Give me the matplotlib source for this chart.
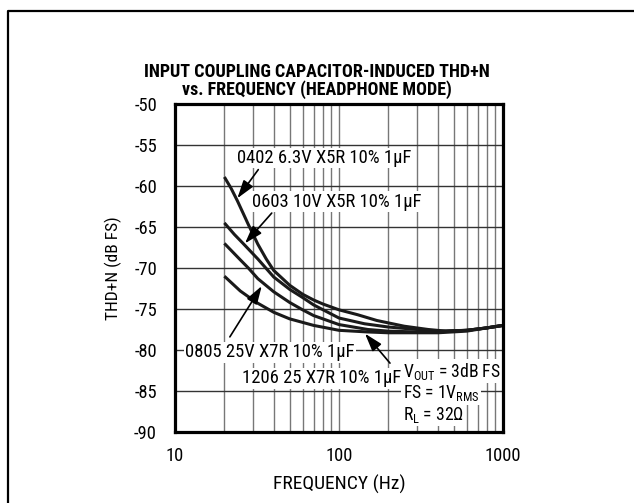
import matplotlib
matplotlib.use('Agg')
import matplotlib.pyplot as plt
from matplotlib import font_manager
from matplotlib.lines import Line2D

# THD+N readings (dB FS) per capacitor type
freq_0402 = [20, 22, 24, 26, 28, 32, 36, 40, 50, 60, 70, 80, 100, 130, 170, 250, 350, 450, 600, 800, 1000]
thd_0402 = [-58.9, -60.3, -61.8, -63.3, -64.7, -67.1, -68.9, -70.3, -72.1, -73.2, -73.9, -74.4, -75.1, -75.7,
            -76.4, -77.1, -77.5, -77.7, -77.6, -77.3, -77.0]

freq_0603 = [20, 23, 26, 32, 40, 50, 60, 70, 100, 143, 200, 300, 400, 600, 800, 1000]
thd_0603 = [-64.5, -65.9, -67.0, -68.9, -71.1, -72.6, -73.6, -74.5, -76.1, -76.8, -77.2, -77.5, -77.7,
            -77.6, -77.3, -77.0]

freq_0805 = [20, 25, 28, 32, 40, 50, 60, 70, 100, 150, 200, 300, 400, 600, 800, 1000]
thd_0805 = [-67.0, -69.0, -70.0, -71.3, -72.9, -74.2, -75.1, -75.8, -76.9, -77.5, -77.7, -77.8, -77.8,
            -77.6, -77.3, -77.0]

freq_1206 = [20, 25, 28, 32, 40, 50, 70, 100, 150, 200, 300, 400, 600, 800, 1000]
thd_1206 = [-71.0, -72.8, -73.5, -74.3, -75.4, -76.2, -77.0, -77.6, -77.8, -77.9, -77.9, -77.9, -77.7,
            -77.3, -77.0]

y_ticks = [-50, -55, -60, -65, -70, -75, -80, -85, -90]
x_ticks = [10, 100, 1000]

names = {f.name for f in font_manager.fontManager.ttflist}
face = next((n for n in ['Liberation Sans Narrow', 'Roboto Condensed', 'Roboto'] if n in names),
            'Liberation Sans')
plt.rcParams['font.family'] = [face, 'DejaVu Sans']
plt.rcParams['mathtext.fontset'] = 'custom'
plt.rcParams['mathtext.rm'] = face
plt.rcParams['mathtext.it'] = face

fig = plt.figure(figsize=(6.34, 5.03), dpi=100)
ax = fig.add_axes([175 / 634, 1 - 432 / 503, 328 / 634, 328 / 503])

for f, v in [(freq_0402, thd_0402), (freq_0603, thd_0603),
             (freq_0805, thd_0805), (freq_1206, thd_1206)]:
    ax.plot(f, v, color='#1a1a1a', lw=2.2, solid_capstyle='butt', zorder=3)

ax.set_xscale('log')
ax.set_xlim(10, 1000)
ax.set_ylim(-90, -50)
ax.set_xticks(x_ticks)
ax.set_xticklabels([str(t) for t in x_ticks])
ax.set_yticks(y_ticks)
ax.set_yticklabels([str(t) for t in y_ticks])
ax.xaxis.set_minor_formatter(plt.NullFormatter())
ax.tick_params(which='both', length=0, labelsize=13.3)
ax.tick_params(axis='y', pad=13)
ax.tick_params(axis='x', pad=11)
ax.grid(True, which='both', axis='x', color='#777777', lw=1.0)
ax.grid(True, which='major', axis='y', color='#333333', lw=1.0)
for s in ax.spines.values():
    s.set_linewidth(2.3)
    s.set_zorder(5)

ax.set_xlabel('FREQUENCY (Hz)', fontsize=14, labelpad=7)
ax.set_ylabel('THD+N (dB FS)', fontsize=12.5, labelpad=9)

fig.text(0.5, 1 - 72 / 503, 'INPUT COUPLING CAPACITOR-INDUCED THD+N', ha='center', va='center',
         fontsize=13, fontweight='black')
fig.text(0.5, 1 - 90 / 503, 'vs. FREQUENCY (HEADPHONE MODE)', ha='center', va='center',
         fontsize=13, fontweight='black')

box = dict(facecolor='white', edgecolor='none', pad=1.0)
arrow = dict(arrowstyle='-|>,head_length=1.1,head_width=0.35', color='black', lw=1.2,
             shrinkA=0, shrinkB=0)

labels = [
    ('0402 6.3V X5R 10% 1µF', (23.9, -56.6), (32.2, -58.0), (24.0, -61.5)),
    ('0603 10V X5R 10% 1µF', (29.4, -61.9), (38.9, -63.3), (26.7, -67.0)),
    ('0805 25V X7R 10% 1µF', (11.5, -80.3), (21.6, -78.4), (33.8, -72.2)),
    ('1206 25 X7R 10% 1µF', (25.5, -83.45), (204.6, -81.6), (144.0, -78.0)),
]
for text, pos, tail, tip in labels:
    ax.annotate('', xy=tip, xytext=tail, arrowprops=arrow, zorder=4)
    ax.text(pos[0], pos[1], text, ha='left', va='center', fontsize=13.4, bbox=box, zorder=4)

cond = [(r'V$_{\mathrm{OUT}}$ = 3dB FS', -82.6), (r'FS = 1V$_{\mathrm{RMS}}$', -85.3),
        (r'R$_{\mathrm{L}}$ = 32Ω', -87.9)]
for text, y in cond:
    ax.text(244, y, text, ha='left', va='center', fontsize=12.7, bbox=box, zorder=4)

# outer panel border (left and top edges)
fig.add_artist(Line2D([8 / 634, 8 / 634, 1.0], [0.0, 1 - 10.5 / 503, 1 - 10.5 / 503],
                      transform=fig.transFigure, color='black', lw=1.6))

fig.savefig('out.png', dpi=100)
